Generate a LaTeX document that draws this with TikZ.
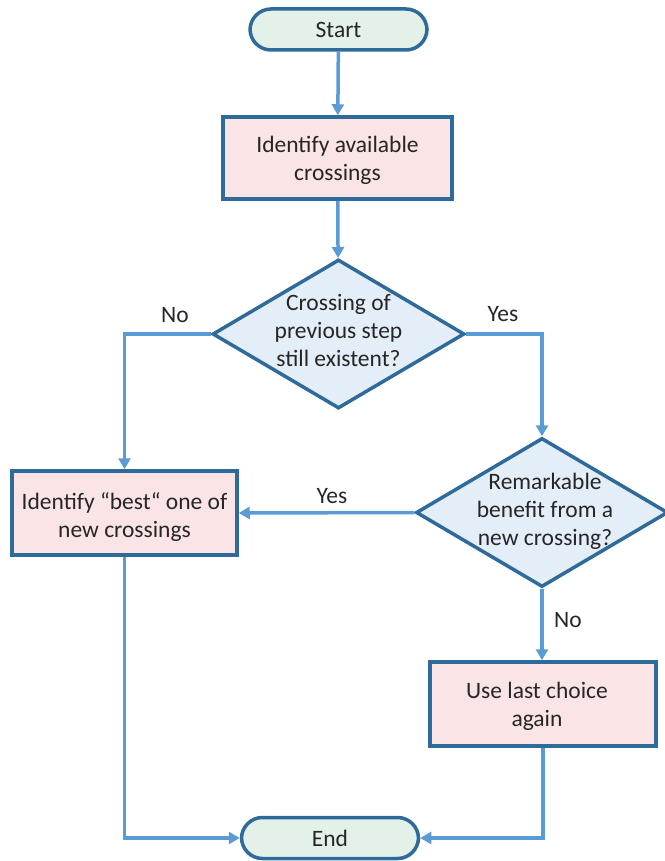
\documentclass[tikz,border=0pt]{standalone}
\usepackage{fontspec}
\setmainfont{Carlito}
\usetikzlibrary{arrows.meta,shapes.geometric}
\definecolor{bordc}{HTML}{2E6A9A}
\definecolor{arrc}{HTML}{5B9BD5}
\definecolor{termfill}{HTML}{E4F1E9}
\definecolor{boxfill}{HTML}{FBE4E6}
\definecolor{diafill}{HTML}{E4EEF8}
\definecolor{txtc}{HTML}{262626}
\begin{document}
\begin{tikzpicture}[x=1pt,y=-1pt,
  every node/.style={font=\fontsize{23.5}{28}\selectfont, text=txtc},
  term/.style={draw=bordc, fill=termfill, line width=3.5pt, rounded corners=21pt, minimum width=177pt, minimum height=41pt, inner sep=0pt},
  procbox/.style={draw=bordc, fill=boxfill, line width=3.5pt, minimum width=228pt, minimum height=84pt, inner sep=0pt, align=center},
  dia/.style={draw=bordc, fill=diafill, line width=3.5pt, diamond, minimum width=252pt, minimum height=149pt, inner sep=0pt},
  arr/.style={draw=arrc, line width=3.5pt, -{Triangle[length=11pt,width=12pt]}},
  lbl/.style={inner sep=1pt}
]
\useasboundingbox (0,0) rectangle (664,861);
\node[term] (start) at (338.5,29.5) {Start};
\node[procbox, minimum width=229pt, minimum height=82pt] (box1) at (337.5,158) {};
\node[align=center] (box1t) at (337.5,160) {Identify available\\crossings};
\node[dia] (d1) at (338.5,334) {};
\node[align=center] (d1t) at (338.5,330) {Crossing of\\previous step\\still existent?};
\node[dia] (d2) at (542,512.5) {};
\node[align=center] (d2t) at (545,511) {Remarkable\\benefit from a\\new crossing?};
\node[procbox, minimum width=225pt, minimum height=84pt] (box2) at (124.5,513) {};
\node[align=center] (box2t) at (124.5,517) {Identify “best“ one of\\new crossings};
\node[procbox, minimum width=226pt, minimum height=84pt] (box3) at (543,704) {};
\node[align=center] (box3t) at (537,706) {Use last choice\\again};
\node[term] (end) at (330,838) {End};

\draw[arr] (start) -- (box1);
\draw[arr] (box1) -- (d1);
\draw[arr] (d1.west) -| (box2.north);
\draw[arr] (d1.east) -| (d2.north);
\draw[arr] (d2.west) -- (box2.east);
\draw[arr] (d2.south) -- (d2.south |- box3.north);
\draw[arr] (box2.south) |- (end.west);
\draw[arr] (box3.south) |- (end.east);

\node[lbl] (lno1) at (175,315) {No};
\node[lbl] (lyes1) at (503,314) {Yes};
\node[lbl] (lyes2) at (332,496) {Yes};
\node[lbl] (lno2) at (568,620) {No};
\end{tikzpicture}
\end{document}
